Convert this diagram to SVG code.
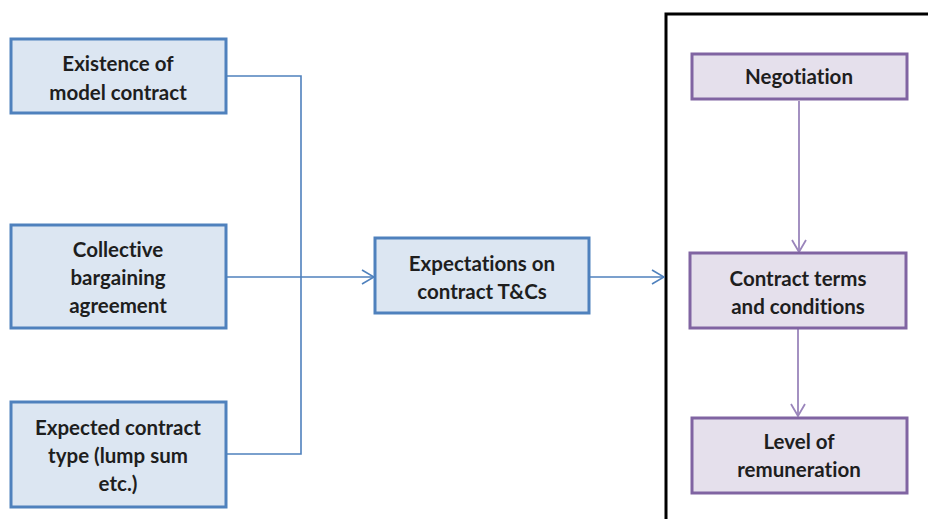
<svg xmlns="http://www.w3.org/2000/svg" width="928" height="519" viewBox="0 0 928 519">
<defs>
<style>
.b{fill:#dce6f2;stroke:#4f81bd;stroke-width:3}
.p{fill:#e5e0ec;stroke:#8064a2;stroke-width:3}
text{font-family:Lato,"Open Sans","Liberation Sans",sans-serif;font-weight:bold;font-size:20.5px;fill:#1e1e1e;text-anchor:middle;font-variant-ligatures:none}
.cb{fill:none;stroke:#4f81bd;stroke-width:1.6}
.cp{fill:none;stroke:#9a85bb;stroke-width:1.8}
</style>
<marker id="ab" markerWidth="14" markerHeight="16" refX="13" refY="8" orient="auto" markerUnits="userSpaceOnUse"><path d="M1,1 L13,8 L1,15" fill="none" stroke="#4f81bd" stroke-width="1.6"/></marker>
<marker id="ap" markerWidth="14" markerHeight="16" refX="13" refY="8" orient="auto" markerUnits="userSpaceOnUse"><path d="M1,1 L13,8 L1,15" fill="none" stroke="#9a85bb" stroke-width="1.8"/></marker>
</defs>
<rect width="928" height="519" fill="#fff"/>
<rect id="frame" x="666" y="14" width="280" height="520" fill="none" stroke="#000" stroke-width="3"/>
<g id="connectors">
<path class="cb" d="M227,76 H301 V454 H227"/>
<path class="cb" d="M227,277 H374" marker-end="url(#ab)"/>
<path class="cb" d="M590,277 H664" marker-end="url(#ab)"/>
<path class="cp" d="M799,101 V252" marker-end="url(#ap)"/>
<path class="cp" d="M798,329 V416" marker-end="url(#ap)"/>
</g>
<g id="n1"><rect class="b" x="11" y="39" width="215" height="74"/><text x="118" y="71">Existence of</text><text x="118" y="100">model contract</text></g>
<g id="n2"><rect class="b" x="11" y="225" width="215" height="103"/><text x="118" y="257">Collective</text><text x="118" y="285">bargaining</text><text x="118" y="313">agreement</text></g>
<g id="n3"><rect class="b" x="11" y="402" width="215" height="105"/><text x="118" y="435">Expected contract</text><text x="118" y="463">type (lump sum</text><text x="118" y="491">etc.)</text></g>
<g id="n4"><rect class="b" x="375" y="238" width="214" height="75"/><text x="482" y="271">Expectations on</text><text x="482" y="299">contract T&amp;Cs</text></g>
<g id="n5"><rect class="p" x="692" y="54" width="215" height="45"/><text x="799" y="84">Negotiation</text></g>
<g id="n6"><rect class="p" x="690" y="253" width="216" height="75"/><text x="798" y="286">Contract terms</text><text x="798" y="314">and conditions</text></g>
<g id="n7"><rect class="p" x="692" y="418" width="215" height="75"/><text x="799" y="449">Level of</text><text x="799" y="477">remuneration</text></g>
</svg>
